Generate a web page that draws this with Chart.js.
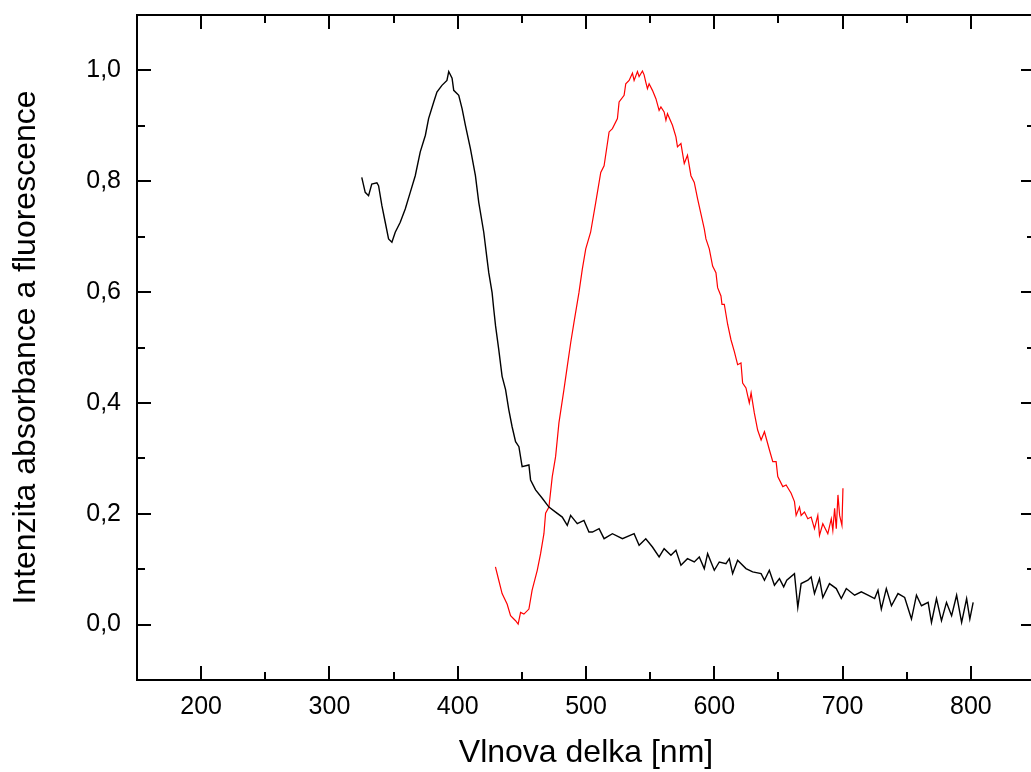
<!DOCTYPE html>
<html>
<head>
<meta charset="utf-8">
<script src="https://cdn.jsdelivr.net/npm/chart.js@4/dist/chart.umd.min.js"></script>
<style>
  html, body { margin: 0; padding: 0; background: #fff; overflow: hidden; }
  #wrap { width: 1040px; height: 772px; }
</style>
</head>
<body>
<div id="wrap"><canvas id="view-canvas" width="1040" height="772"></canvas></div>
<script>
// absorbance spectrum (black)
var absWl = [325.2, 327.9, 330.5, 333.0, 337.0, 338.3, 340.9, 343.5, 346.1, 348.7, 351.3, 355.2, 359.1, 363.0,
  366.9, 370.8, 374.8, 377.3, 381.3, 383.8, 387.7, 391.6, 393.0, 395.6, 396.9, 400.8, 403.4, 406.0, 409.9,
  413.8, 416.4, 420.3, 422.9, 424.2, 426.8, 428.1, 429.5, 432.0, 434.6, 437.3, 439.8, 442.4, 445.1, 447.7,
  450.2, 455.5, 456.8, 460.7, 465.9, 471.1, 476.3, 481.5, 485.4, 488.0, 493.2, 498.4, 502.3, 505.0, 510.2,
  514.1, 520.6, 528.4, 537.5, 541.4, 546.6, 551.8, 557.0, 560.9, 566.2, 570.1, 574.0, 579.1, 584.4, 588.3,
  592.2, 594.8, 600.0, 603.9, 609.1, 611.7, 614.3, 618.2, 624.7, 629.9, 636.5, 639.1, 642.9, 646.9, 650.8,
  654.1, 656.5, 662.5, 665.1, 667.7, 673.0, 675.5, 678.1, 682.0, 684.6, 689.8, 695.1, 699.0, 702.9, 709.4,
  714.6, 719.8, 725.0, 727.6, 730.2, 734.1, 738.1, 743.2, 748.4, 753.7, 757.6, 761.5, 766.7, 769.3, 773.2,
  777.1, 781.0, 785.0, 788.9, 792.8, 796.7, 799.2, 801.8];
var absVal = [0.807, 0.780, 0.774, 0.795, 0.797, 0.792, 0.756, 0.726, 0.696, 0.690, 0.708, 0.726, 0.750, 0.780,
  0.810, 0.853, 0.883, 0.913, 0.943, 0.961, 0.973, 0.982, 0.998, 0.986, 0.964, 0.955, 0.931, 0.901, 0.859,
  0.810, 0.762, 0.708, 0.659, 0.635, 0.599, 0.569, 0.539, 0.496, 0.448, 0.424, 0.388, 0.357, 0.330, 0.321,
  0.285, 0.288, 0.261, 0.243, 0.228, 0.212, 0.203, 0.194, 0.179, 0.197, 0.182, 0.188, 0.167, 0.167, 0.173,
  0.155, 0.164, 0.155, 0.164, 0.143, 0.155, 0.140, 0.122, 0.137, 0.125, 0.134, 0.107, 0.119, 0.113, 0.122,
  0.101, 0.128, 0.098, 0.113, 0.110, 0.119, 0.092, 0.116, 0.101, 0.095, 0.092, 0.080, 0.098, 0.071, 0.083,
  0.068, 0.080, 0.092, 0.031, 0.074, 0.080, 0.086, 0.056, 0.083, 0.049, 0.074, 0.065, 0.047, 0.065, 0.053,
  0.059, 0.053, 0.047, 0.062, 0.028, 0.065, 0.034, 0.056, 0.049, 0.010, 0.053, 0.034, 0.040, 0.004, 0.047,
  0.007, 0.040, 0.016, 0.053, 0.004, 0.047, 0.010, 0.040];

// fluorescence spectrum (red)
var fluWl = [429.4, 432.0, 434.6, 438.5, 441.2, 445.1, 447.1, 449.0, 451.6, 455.5, 458.0, 462.0, 464.6, 467.2,
  468.5, 471.1, 473.7, 476.3, 478.9, 482.8, 485.4, 488.1, 490.6, 494.5, 497.1, 499.8, 503.6, 507.6, 511.5,
  514.1, 518.0, 520.6, 524.5, 525.8, 529.7, 531.0, 533.6, 536.2, 537.5, 540.1, 541.4, 544.0, 545.3, 546.6,
  547.9, 549.2, 551.8, 554.5, 557.0, 558.4, 560.9, 562.3, 563.5, 567.4, 570.1, 571.3, 574.0, 576.6, 579.1,
  581.8, 584.4, 587.0, 589.6, 592.2, 593.5, 596.1, 598.7, 601.3, 602.6, 605.2, 606.0, 607.8, 610.4, 613.0,
  615.6, 618.2, 620.8, 622.1, 624.7, 627.3, 628.7, 631.2, 633.8, 636.5, 639.1, 643.0, 645.6, 648.2, 649.5,
  653.4, 656.0, 659.9, 662.5, 663.8, 666.4, 667.7, 670.3, 672.9, 675.5, 678.1, 680.7, 682.0, 684.6, 688.5,
  691.2, 692.4, 693.8, 695.1, 696.4, 697.7, 699.5, 700.3];
var fluVal = [0.104, 0.080, 0.056, 0.037, 0.016, 0.007, 0.001, 0.022, 0.019, 0.028, 0.062, 0.098, 0.128, 0.164,
  0.201, 0.212, 0.267, 0.303, 0.364, 0.424, 0.466, 0.509, 0.545, 0.599, 0.641, 0.678, 0.708, 0.762, 0.816,
  0.828, 0.889, 0.895, 0.913, 0.943, 0.955, 0.976, 0.982, 0.995, 0.982, 0.998, 0.989, 0.999, 0.992, 0.979,
  0.967, 0.976, 0.964, 0.949, 0.928, 0.934, 0.925, 0.910, 0.922, 0.901, 0.880, 0.862, 0.868, 0.832, 0.847,
  0.810, 0.798, 0.768, 0.741, 0.714, 0.696, 0.678, 0.647, 0.635, 0.608, 0.593, 0.578, 0.578, 0.542, 0.514,
  0.493, 0.469, 0.472, 0.436, 0.427, 0.400, 0.418, 0.382, 0.351, 0.333, 0.348, 0.315, 0.294, 0.294, 0.267,
  0.249, 0.252, 0.237, 0.222, 0.197, 0.212, 0.197, 0.203, 0.191, 0.194, 0.173, 0.197, 0.161, 0.182, 0.164,
  0.191, 0.170, 0.210, 0.173, 0.234, 0.197, 0.179, 0.246];

var xTitle = 'Vlnova delka [nm]';
var yTitle = 'Intenzita absorbance a fluorescence';

var FONT = '"Liberation Sans", Arial, sans-serif';

function toPoints(xs, ys) {
    var out = [];
    for (var i = 0; i < xs.length; ++i) {
        out.push({ x: xs[i], y: ys[i] });
    }
    return out;
}

// inward ticks on all four sides plus the frame
var frameTicks = {
    id: 'frameTicks',
    afterDatasetsDraw(chart) {
        var ctx = chart.ctx;
        var a = chart.chartArea;
        var x = chart.scales.x;
        var y = chart.scales.y;
        ctx.save();
        ctx.strokeStyle = '#000';
        ctx.lineWidth = 2;
        ctx.beginPath();
        x.ticks.forEach(t => {
            var px = Math.round(x.getPixelForValue(t.value));
            var len = Math.round(t.value) % 100 === 0 ? 14 : 8;
            ctx.moveTo(px, a.bottom); ctx.lineTo(px, a.bottom - len);
            ctx.moveTo(px, a.top); ctx.lineTo(px, a.top + len);
        });
        y.ticks.forEach(t => {
            var py = Math.round(y.getPixelForValue(t.value));
            var len = Math.round(t.value * 10) % 2 === 0 ? 14 : 8;
            ctx.moveTo(a.left, py); ctx.lineTo(a.left + len, py);
            ctx.moveTo(a.right, py); ctx.lineTo(a.right - len, py);
        });
        ctx.stroke();
        ctx.strokeRect(a.left, a.top, a.right - a.left, a.bottom - a.top);
        ctx.restore();
    }
};

var canvas = document.getElementById('view-canvas');

var myChart = new Chart(canvas, {
    type: 'line',
    data: {
        datasets: [{
            data: toPoints(absWl, absVal),
            borderColor: '#000',
            borderWidth: 1.4,
            pointRadius: 0,
            tension: 0
        }, {
            data: toPoints(fluWl, fluVal),
            borderColor: '#ff0000',
            borderWidth: 1.2,
            pointRadius: 0,
            tension: 0
        }]
    },
    options: {
        responsive: false,
        animation: false,
        devicePixelRatio: 1,
        layout: { padding: { left: 0, top: 15, right: 5, bottom: 0 } },
        plugins: {
            legend: { display: false },
            tooltip: { enabled: false }
        },
        scales: {
            x: {
                type: 'linear',
                min: 150,
                max: 850,
                grid: { display: false, drawTicks: false },
                border: { display: false },
                afterFit: s => { s.height = 92; s.paddingLeft = 0; s.paddingRight = 0; },
                ticks: {
                    stepSize: 50,
                    autoSkip: false,
                    maxRotation: 0,
                    padding: 12,
                    color: '#000',
                    font: { family: FONT, size: 25 },
                    callback: v => (Math.round(v) % 100 === 0 ? String(Math.round(v)) : '')
                },
                title: {
                    display: true,
                    text: xTitle,
                    color: '#000',
                    font: { family: FONT, size: 32 },
                    padding: { top: 0, bottom: 0 }
                }
            },
            y: {
                type: 'linear',
                min: -0.1,
                max: 1.1,
                grid: { display: false, drawTicks: false },
                border: { display: false },
                afterFit: s => { s.width = 137; s.paddingTop = 0; s.paddingBottom = 0; },
                ticks: {
                    stepSize: 0.1,
                    autoSkip: false,
                    padding: 16,
                    color: '#000',
                    font: { family: FONT, size: 25 },
                    callback: v => (Math.round(v * 10) % 2 === 0 ? v.toFixed(1).replace('.', ',') : '')
                },
                title: {
                    display: true,
                    text: yTitle,
                    color: '#000',
                    font: { family: FONT, size: 32 },
                    padding: { top: 7, bottom: 0 }
                }
            }
        }
    },
    plugins: [frameTicks]
});
</script>
</body>
</html>
